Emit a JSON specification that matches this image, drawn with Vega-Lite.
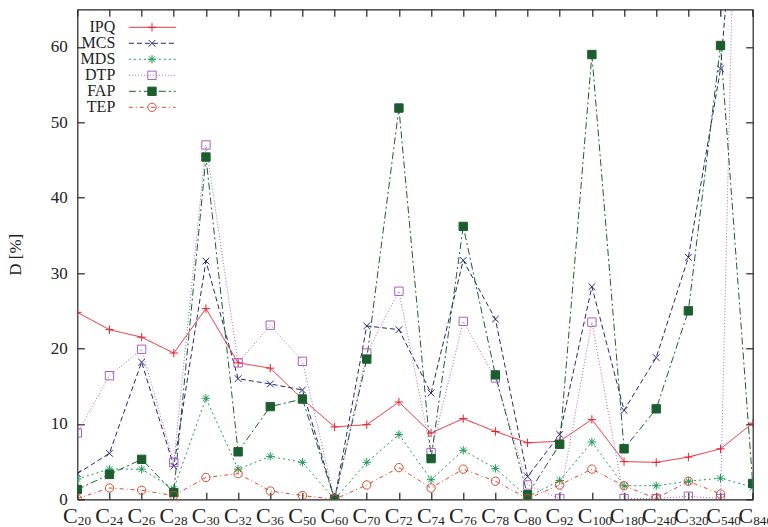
{
  "$schema": "https://vega.github.io/schema/vega-lite/v6.json",
  "width": 675.4,
  "height": 490,
  "autosize": "none",
  "padding": {"left": 77.3, "top": 9.3, "right": 15.3, "bottom": 27.7},
  "config": {
    "font": "Liberation Serif",
    "view": {"stroke": null},
    "axis": {"domainColor": "#222", "domainWidth": 1.2, "tickColor": "#222", "tickWidth": 1.2, "labelColor": "#222", "titleColor": "#222", "grid": false, "labelFont": "Liberation Serif", "titleFont": "Liberation Serif"},
    "legend": {"labelFont": "Liberation Serif"}
  },
  "data": {
    "values": [
      {"cat": "C20", "IPQ": 24.8, "MCS": 3.4, "MDS": 2.7, "DTP": 8.8, "FAP": 1.3, "TEP": 0.1},
      {"cat": "C24", "IPQ": 22.5, "MCS": 6.1, "MDS": 4.0, "DTP": 16.4, "FAP": 3.3, "TEP": 1.5},
      {"cat": "C26", "IPQ": 21.5, "MCS": 18.2, "MDS": 4.0, "DTP": 19.9, "FAP": 5.3, "TEP": 1.2},
      {"cat": "C28", "IPQ": 19.4, "MCS": 4.4, "MDS": 1.4, "DTP": 4.9, "FAP": 0.9, "TEP": 0.5},
      {"cat": "C30", "IPQ": 25.3, "MCS": 31.6, "MDS": 13.4, "DTP": 47.0, "FAP": 45.4, "TEP": 2.9},
      {"cat": "C32", "IPQ": 18.1, "MCS": 16.0, "MDS": 4.0, "DTP": 18.1, "FAP": 6.3, "TEP": 3.4},
      {"cat": "C36", "IPQ": 17.4, "MCS": 15.3, "MDS": 5.7, "DTP": 23.1, "FAP": 12.3, "TEP": 1.1},
      {"cat": "C50", "IPQ": 13.3, "MCS": 14.5, "MDS": 4.9, "DTP": 18.3, "FAP": 13.3, "TEP": 0.5},
      {"cat": "C60", "IPQ": 9.6, "MCS": 0.0, "MDS": 0.0, "DTP": 0.0, "FAP": 0.0, "TEP": 0.0},
      {"cat": "C70", "IPQ": 9.9, "MCS": 23.0, "MDS": 4.9, "DTP": 19.4, "FAP": 18.6, "TEP": 1.9},
      {"cat": "C72", "IPQ": 12.9, "MCS": 22.5, "MDS": 8.6, "DTP": 27.6, "FAP": 51.9, "TEP": 4.2},
      {"cat": "C74", "IPQ": 8.8, "MCS": 14.1, "MDS": 2.6, "DTP": 6.2, "FAP": 5.4, "TEP": 1.5},
      {"cat": "C76", "IPQ": 10.7, "MCS": 31.7, "MDS": 6.5, "DTP": 23.6, "FAP": 36.2, "TEP": 4.0},
      {"cat": "C78", "IPQ": 9.0, "MCS": 23.9, "MDS": 4.1, "DTP": 16.1, "FAP": 16.5, "TEP": 2.4},
      {"cat": "C80", "IPQ": 7.5, "MCS": 3.0, "MDS": 0.3, "DTP": 1.9, "FAP": 0.6, "TEP": 0.1},
      {"cat": "C92", "IPQ": 7.7, "MCS": 8.6, "MDS": 2.5, "DTP": 0.1, "FAP": 7.3, "TEP": 1.9},
      {"cat": "C100", "IPQ": 10.6, "MCS": 28.2, "MDS": 7.6, "DTP": 23.5, "FAP": 59.0, "TEP": 4.0},
      {"cat": "C180", "IPQ": 5.0, "MCS": 11.8, "MDS": 1.8, "DTP": 0.1, "FAP": 6.7, "TEP": 1.8},
      {"cat": "C240", "IPQ": 4.9, "MCS": 18.8, "MDS": 1.8, "DTP": 0.1, "FAP": 12.0, "TEP": 0.1},
      {"cat": "C320", "IPQ": 5.6, "MCS": 32.1, "MDS": 2.4, "DTP": 0.4, "FAP": 25.0, "TEP": 2.4},
      {"cat": "C540", "IPQ": 6.7, "MCS": 57.1, "MDS": 2.8, "DTP": 0.1, "FAP": 60.2, "TEP": 0.7},
      {"cat": "C840", "IPQ": 10.1, "MCS": 109, "MDS": 1.6, "DTP": 185, "FAP": 2.1, "TEP": null}
    ]
  },
  "transform": [
    {"fold": ["IPQ", "MCS", "MDS", "DTP", "FAP", "TEP"], "as": ["series", "v"]}
  ],
  "resolve": {"scale": {"x": "independent", "y": "independent"}},
  "layer": [
    {
      "mark": {"type": "line", "clip": true, "strokeWidth": 1},
      "encoding": {
        "x": {
          "field": "cat", "type": "ordinal",
          "scale": {"type": "point", "padding": 0, "domain": ["C20","C24","C26","C28","C30","C32","C36","C50","C60","C70","C72","C74","C76","C78","C80","C92","C100","C180","C240","C320","C540","C840"]},
          "axis": {"orient": "bottom", "title": null, "labelExpr": "'C'", "labelFontSize": 22, "labelAngle": 0, "labelAlign": "right", "labelBaseline": "alphabetic", "labelPadding": 30.5, "tickSize": -7, "labelOverlap": false, "labelFlush": false,
            "encode": {"labels": {"update": {"dx": {"signal": "length(datum.value) > 3 ? -5.4 : -0.3"}}}}}
        },
        "y": {
          "field": "v", "type": "quantitative",
          "scale": {"domain": [0, 65], "nice": false, "zero": false},
          "axis": {"orient": "left", "values": [0, 10, 20, 30, 40, 50, 60], "tickSize": -7, "labelPadding": 17, "labelFontSize": 17, "title": "D [%]", "titleFontSize": 17, "titleFontWeight": "normal", "titlePadding": 26}
        },
        "order": {"value": null},
        "color": {
          "field": "series", "type": "nominal",
          "scale": {"domain": ["IPQ", "MCS", "MDS", "DTP", "FAP", "TEP"], "range": ["#e8202a", "#262673", "#1e9955", "#a660c4", "#1b5e2e", "#d84a30"]},
          "legend": {"orient": "none", "legendX": 67, "legendY": 10, "title": null, "symbolType": "M-6,0L6,0", "symbolSize": 61, "symbolStrokeWidth": 1, "labelFontSize": 16, "labelColor": "#222", "labelAlign": "right", "labelOffset": -45, "rowPadding": 0, "padding": 0}
        },
        "strokeDash": {
          "field": "series", "type": "nominal",
          "scale": {"domain": ["IPQ", "MCS", "MDS", "DTP", "FAP", "TEP"], "range": [[1, 0], [5, 3], [2, 3], [1, 2], [7, 3, 2, 3], [4, 3, 1, 3]]},
          "legend": {"orient": "none", "legendX": 67, "legendY": 10, "title": null}
        }
      }
    },
    {
      "transform": [{"filter": "datum.v != null"}],
      "mark": {"type": "point", "clip": true, "strokeWidth": 1, "size": 70, "opacity": 1},
      "encoding": {
        "x": {
          "field": "cat", "type": "ordinal",
          "scale": {"type": "point", "padding": 0, "domain": ["C20","C24","C26","C28","C30","C32","C36","C50","C60","C70","C72","C74","C76","C78","C80","C92","C100","C180","C240","C320","C540","C840"]},
          "axis": {"orient": "bottom", "title": null, "labelExpr": "substring(datum.value, 1)", "labelFontSize": 13.2, "labelAngle": 0, "labelAlign": "left", "labelBaseline": "alphabetic", "labelPadding": 25, "ticks": false, "domain": false, "labelOverlap": false, "labelFlush": false,
            "encode": {"labels": {"update": {"dx": {"signal": "length(datum.value) > 3 ? -6.3 : 0"}}}}}
        },
        "y": {
          "field": "v", "type": "quantitative",
          "scale": {"domain": [0, 65], "nice": false, "zero": false},
          "axis": {"orient": "right", "values": [0, 10, 20, 30, 40, 50, 60], "tickSize": -7, "labels": false, "title": null}
        },
        "shape": {
          "field": "series", "type": "nominal", "sort": null,
          "scale": {"range": ["M-1,0L1,0M0,-1L0,1", "M-0.8,-0.8L0.8,0.8M-0.8,0.8L0.8,-0.8", "M-1,0L1,0M0,-1L0,1M-0.7,-0.7L0.7,0.7M-0.7,0.7L0.7,-0.7", "square", "square", "circle"]},
          "legend": {"orient": "none", "legendX": 66.7, "legendY": 10, "title": null, "symbolSize": 70, "symbolStrokeWidth": 1, "labelFontSize": 16, "labelOpacity": 0, "rowPadding": 0, "padding": 0}
        },
        "stroke": {
          "field": "series", "type": "nominal", "sort": null,
          "scale": {"range": ["#e8202a", "#262673", "#1e9955", "#a660c4", "#1b5e2e", "#d84a30"]},
          "legend": {"orient": "none", "legendX": 66.7, "legendY": 10, "title": null}
        },
        "fill": {
          "field": "series", "type": "nominal", "sort": null,
          "scale": {"range": ["transparent", "transparent", "transparent", "transparent", "#1b5e2e", "transparent"]},
          "legend": {"orient": "none", "legendX": 66.7, "legendY": 10, "title": null}
        }
      }
    },
    {
      "mark": {"type": "point", "opacity": 0},
      "encoding": {
        "x": {
          "field": "cat", "type": "ordinal",
          "scale": {"type": "point", "padding": 0, "domain": ["C20","C24","C26","C28","C30","C32","C36","C50","C60","C70","C72","C74","C76","C78","C80","C92","C100","C180","C240","C320","C540","C840"]},
          "axis": {"orient": "top", "title": null, "labels": false, "tickSize": -7}
        },
        "y": {
          "field": "v", "type": "quantitative",
          "scale": {"domain": [0, 65], "nice": false, "zero": false},
          "axis": null
        }
      }
    }
  ]
}
